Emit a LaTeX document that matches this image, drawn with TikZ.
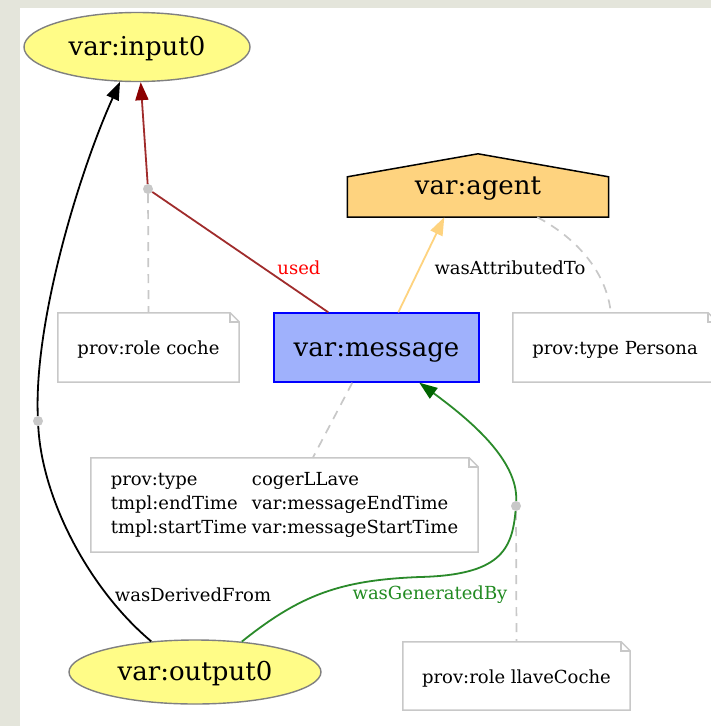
\documentclass[tikz,border=0pt]{standalone}
\usepackage{fontspec}
\setmainfont{DejaVu Serif}
\usetikzlibrary{arrows.meta,shapes.geometric,backgrounds}

\definecolor{pageframe}{HTML}{E4E5DB}
\definecolor{entityfill}{HTML}{FFFC87}
\definecolor{entityline}{HTML}{808080}
\definecolor{agentfill}{HTML}{FED37F}
\definecolor{activityfill}{HTML}{9FB1FC}
\definecolor{noteline}{HTML}{C8C8C8}
\definecolor{usedline}{HTML}{A02C2C}
\definecolor{usedtip}{HTML}{8B0000}
\definecolor{genline}{HTML}{2A8A2A}
\definecolor{gentip}{HTML}{006400}
\definecolor{genlabel}{HTML}{228B22}

% outline of a note with a folded top-right corner
\newcommand\notefold[1]{%
  \draw[noteborder] (#1.south west) -- (#1.south east) -- ([yshift=-9pt]#1.north east)
    -- ([xshift=-9pt]#1.north east) -- (#1.north west) -- cycle;
  \draw[noteborder] ([xshift=-9pt]#1.north east) |- ([yshift=-9pt]#1.north east);}

\tikzset{
  bigtext/.style={font=\fontsize{26}{30}\selectfont, text height=20pt, text depth=3pt},
  entity/.style={ellipse, fill=entityfill, draw=entityline, line width=1.4pt,
    inner sep=0pt, bigtext},
  activity/.style={rectangle, fill=activityfill, draw=blue, line width=1.4pt,
    inner sep=0pt, bigtext},
  agentbox/.style={rectangle, inner sep=0pt, bigtext},
  agentshape/.style={fill=agentfill, draw=black, line width=1.5pt, line join=miter},
  notebox/.style={rectangle, inner sep=0pt, font=\fontsize{18}{24}\selectfont},
  notetext/.style={text height=14pt, text depth=0pt},
  noteborder/.style={draw=noteline, line width=1.5pt},
  notelink/.style={draw=noteline, line width=1.7pt, dash pattern=on 9pt off 7pt},
  dot/.style={circle, fill=noteline, inner sep=0pt, minimum size=10pt},
  edgelabel/.style={inner sep=0pt, font=\fontsize{18}{22}\selectfont},
  tip/.style={-{Triangle[length=18pt,width=13pt,color=#1]}},
  usededge/.style={draw=usedline, line width=1.8pt},
  attredge/.style={draw=agentfill, line width=1.8pt},
  deredge/.style={draw=black, line width=1.8pt},
  genedge/.style={draw=genline, line width=1.8pt},
}

\begin{document}
\begin{tikzpicture}[x=1pt,y=-1pt]
\useasboundingbox (0,0) rectangle (711,726);

% main nodes
\node[entity, minimum width=226pt, minimum height=69pt] (input0) at (137,47) {var:input0};
\node[entity, minimum width=252pt, minimum height=64pt] (output0) at (195,672) {var:output0};
\node[activity, minimum width=205pt, minimum height=69pt] (message) at (376.5,347.5) {var:message};
\node[agentbox, minimum width=261pt, minimum height=63pt] (agent) at (478,185.5) {var:agent};

\begin{scope}[on background layer]
  \fill[pageframe] (0,0) rectangle (711,726);
  \fill[white] (20,8) rectangle (711,726);
  \draw[agentshape] (agent.south west) -- (agent.south east) -- ([yshift=-23pt]agent.north east)
    -- (agent.north) -- ([yshift=-23pt]agent.north west) -- cycle;
\end{scope}

% notes
\node[notebox, notetext, minimum width=181pt, minimum height=69pt] (rolecoche) at (148.5,347.5) {prov:role coche};
\node[notebox, notetext, minimum width=204pt, minimum height=69pt] (persona) at (615,347.5) {prov:type Persona};
\node[notebox, minimum width=387pt, minimum height=94pt] (msgattrs) at (284.5,505) {%
  \begin{tabular}{@{}l@{\hspace{5pt}}l@{}}
  prov:type & cogerLLave\\
  tmpl:endTime & var:messageEndTime\\
  tmpl:startTime & var:messageStartTime
  \end{tabular}};
\node[notebox, notetext, minimum width=227pt, minimum height=68pt] (rolellave) at (516.5,676) {prov:role llaveCoche};
\notefold{rolecoche}
\notefold{persona}
\notefold{msgattrs}
\notefold{rolellave}

% junction dots
\node[dot] (d1) at (148,189) {};
\node[dot] (d2) at (38,421) {};
\node[dot] (d3) at (516,506) {};

% dashed links to notes
\draw[notelink] (d1) -- (rolecoche.north);
\draw[notelink] (d3) -- (rolellave.north);
\draw[notelink] ([xshift=79pt]message.south west) -- ([xshift=222pt]msgattrs.north west);
\draw[notelink] ([xshift=190pt]agent.south west) .. controls (580,240) and (607,275) .. ([xshift=98pt]persona.north west);

% used
\draw[usededge] ([xshift=55pt]message.north west) -- (d1);
\draw[usededge, tip=usedtip] (d1) -- (input0.276);
\node[edgelabel, text=red] (usedlbl) at (299,268) {used};

% wasAttributedTo
\draw[attredge, tip=agentfill] ([xshift=125pt]message.north west) -- ([xshift=97pt]agent.south west);
\node[edgelabel] (attrlbl) at (510,268) {wasAttributedTo};

% wasDerivedFrom
\draw[deredge] (output0.145) .. controls (90,590) and (42,500) .. (d2);
\draw[deredge, tip=black] (d2) .. controls (34,320) and (80,170) .. (input0.244);
\node[edgelabel] (derlbl) at (193,595) {wasDerivedFrom};

% wasGeneratedBy
\draw[genedge] (output0.33) .. controls (300,595) and (340,580) .. (420,577)
  .. controls (500,575) and (512,550) .. (d3);
\draw[genedge, tip=gentip] (d3) .. controls (518,460) and (470,420) .. ([xshift=146pt]message.south west);
\node[edgelabel, text=genlabel] (genlbl) at (430,595) {wasGeneratedBy};
\end{tikzpicture}
\end{document}
